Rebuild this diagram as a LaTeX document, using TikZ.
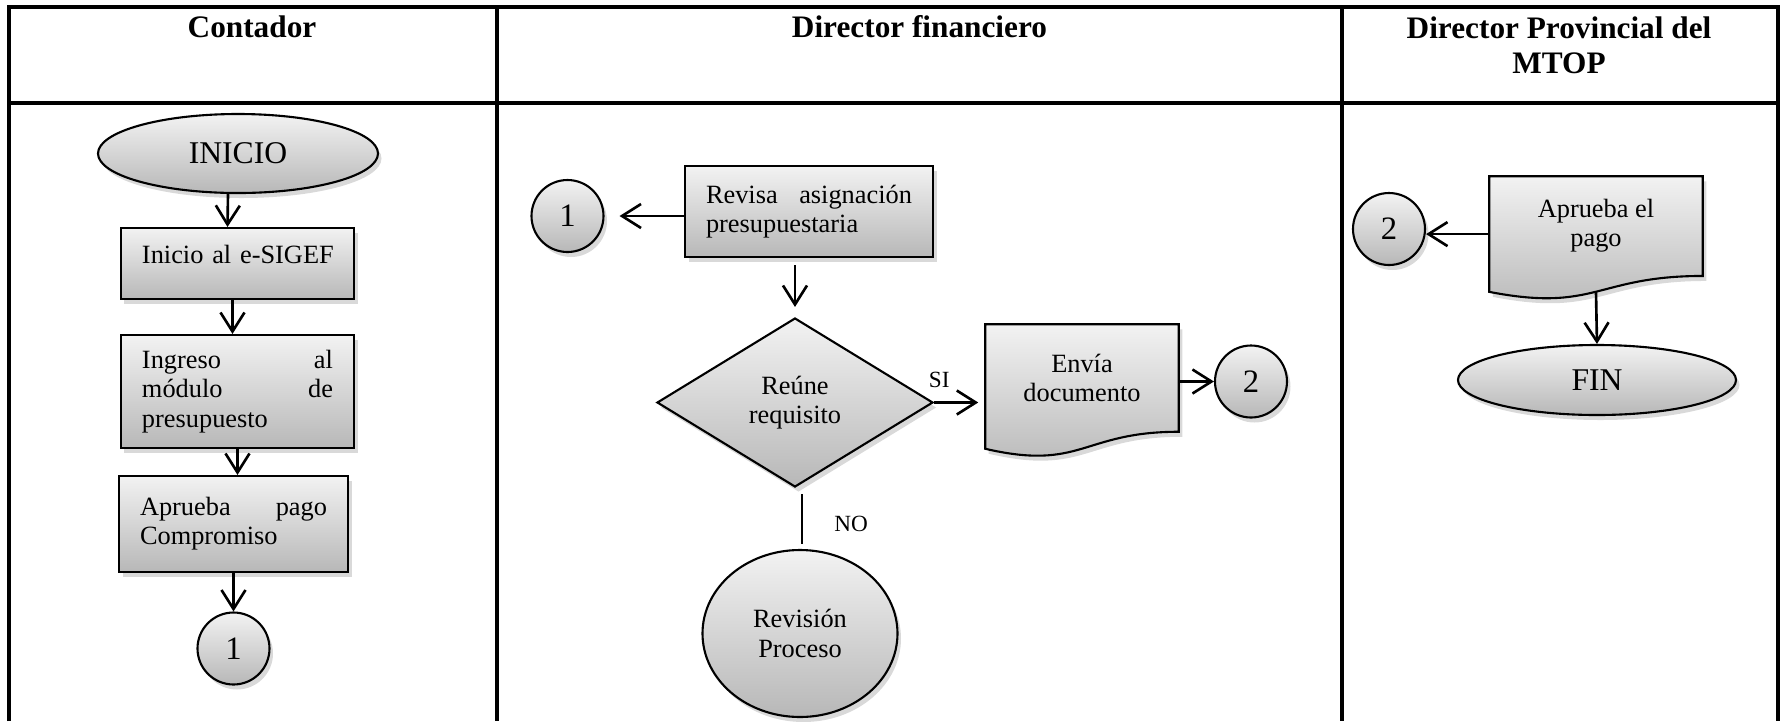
\documentclass[tikz,border=0pt]{standalone}
\usepackage{fontspec}
\setmainfont{Liberation Serif}
\usetikzlibrary{shapes.geometric,arrows.meta,shadows,backgrounds,positioning}

\tikzstyle{shade}    = [top color=black!5, bottom color=black!28, draw=black, line width=0.6pt,
                        drop shadow={shadow xshift=0.35mm, shadow yshift=-0.5mm, opacity=0.3}]
\tikzstyle{body}     = [font=\fontsize{7.5}{8.3}\selectfont]
\tikzstyle{head}     = [font=\fontsize{8.9}{9.9}\selectfont\bfseries, inner sep=0pt, align=center]
\tikzstyle{proc}     = [rectangle, shade, body, inner xsep=0.21cm, inner ysep=0pt, align=left]
\tikzstyle{term}     = [ellipse, shade, inner sep=0pt, font=\fontsize{9}{10}\selectfont]
\tikzstyle{conn}     = [circle, shade, minimum size=0.72cm, inner sep=0pt, font=\fontsize{9.3}{10}\selectfont]
\tikzstyle{decision} = [diamond, shade, body, minimum width=2.76cm, minimum height=1.69cm, inner sep=0pt, align=center]
\tikzstyle{docnode}  = [rectangle, body, inner sep=0pt, align=center]
\tikzstyle{lbl}      = [font=\fontsize{6.6}{7}\selectfont, inner sep=0pt]
\tikzstyle{arr}      = [->, line width=0.75pt]

\begin{document}
\begin{tikzpicture}[%
    >={Straight Barb[length=1.9mm,width=2.4mm]},
    line width=1pt
  ]
  \useasboundingbox (0,0) rectangle (17.8,-7.21);

  %Table
  \draw (0.09,-7.21) -- (0.09,-0.07) -- (17.78,-0.07) -- (17.78,-7.21);
  \draw (0.09,-1.03) -- (17.78,-1.03);
  \draw (4.97,-0.07) -- (4.97,-7.21);
  \draw (13.42,-0.07) -- (13.42,-7.21);
  \draw (2.52,-0.37) node[head, anchor=base] (hc) {Contador};
  \draw (9.195,-0.37) node[head, anchor=base] (hf) {Director financiero};
  \draw (15.59,-0.15) node[head, anchor=north] (hp) {Director Provincial del\\MTOP};

  %Contador
  \draw (2.38,-1.535) node[term, minimum width=2.8cm, minimum height=0.79cm] (ini) {INICIO};
  \draw (2.375,-2.635) node[proc, text width=1.91cm, text height=0.35cm, text depth=0.36cm] (sigef) {\mbox{Inicio al e-SIGEF}};
  \draw (2.375,-3.915) node[proc, text width=1.91cm, minimum height=1.13cm] (mod) {Ingreso\hfill al\\m\'odulo\hfill de\\presupuesto};
  \draw (2.335,-5.24) node[proc, text width=1.87cm, minimum height=0.96cm] (comp) {Aprueba\hfill pago\\Compromiso};
  \draw (2.335,-6.485) node[conn] (c1a) {1};
  \draw[arr] ([xshift=-1mm]ini.south) -- ([xshift=-1mm]sigef.north);
  \draw[arr] ([xshift=-0.5mm]sigef.south) -- ([xshift=-0.5mm]mod.north);
  \draw[arr] (mod.south) -- (mod.south |- comp.north);
  \draw[arr] (comp.south) -- (c1a.north);

  %Director financiero
  \draw (5.675,-2.16) node[conn] (c1b) {1};
  \draw (8.09,-2.115) node[proc, text width=2.06cm, minimum height=0.91cm] (rev) {Revisa\hfill asignaci\'on\\presupuestaria};
  \draw (7.95,-4.025) node[decision] (dia) {Re\'une\\requisito};
  \draw (10.82,-3.78) node[docnode, minimum width=1.9cm, minimum height=1.04cm] (env) {Env\'ia\\documento};
  \draw (12.51,-3.815) node[conn] (c2a) {2};
  \draw (8.0,-6.335) node[term, body, minimum width=1.95cm, minimum height=1.67cm, align=center] (rp) {Revisi\'on\\Proceso};
  \begin{scope}[on background layer]
    \path[shade] (env.north west) -- (env.north east) -- (env.south east)
      .. controls (env.south) and ([yshift=-3.95mm]env.south) .. ([yshift=-1.7mm]env.south west) -- cycle;
  \end{scope}
  \draw[arr, shorten >=1.5mm] (rev.west |- c1b) -- (c1b);
  \draw[arr, shorten <=0.7mm, shorten >=1mm] (rev.south -| dia) -- (dia.north);
  \draw[arr, shorten >=0.7mm] (dia.east) -- (env.west |- dia.east)
    node[lbl, pos=0.1, above=1.3mm] {SI};
  \draw[arr] (env.east |- c2a) -- (c2a);
  \draw[line width=0.75pt, shorten <=0.6mm, shorten >=0.5mm] ([xshift=0.7mm]dia.south) -- ([xshift=0.7mm]dia.south |- rp.north)
    node[lbl, midway, right=3.1mm, yshift=-0.5mm] {NO};

  %Director Provincial del MTOP
  \draw (13.89,-2.29) node[conn] (c2b) {2};
  \draw (15.96,-2.261) node[docnode, minimum width=2.1cm, minimum height=0.962cm] (apr) {Aprueba el\\pago};
  \draw (15.97,-3.8) node[term, minimum width=2.78cm, minimum height=0.7cm] (fin) {FIN};
  \begin{scope}[on background layer]
    \path[shade] (apr.north west) -- (apr.north east) -- (apr.south east)
      .. controls (apr.south) and ([yshift=-3.67mm]apr.south) .. ([yshift=-1.59mm]apr.south west) -- cycle;
  \end{scope}
  \draw[arr] ([yshift=-0.8mm]apr.west) -- ([yshift=-0.8mm]apr.west -| c2b.east);
  \draw[arr] ([yshift=-1.6mm]apr.south) -- (fin.north);
\end{tikzpicture}
\end{document}
